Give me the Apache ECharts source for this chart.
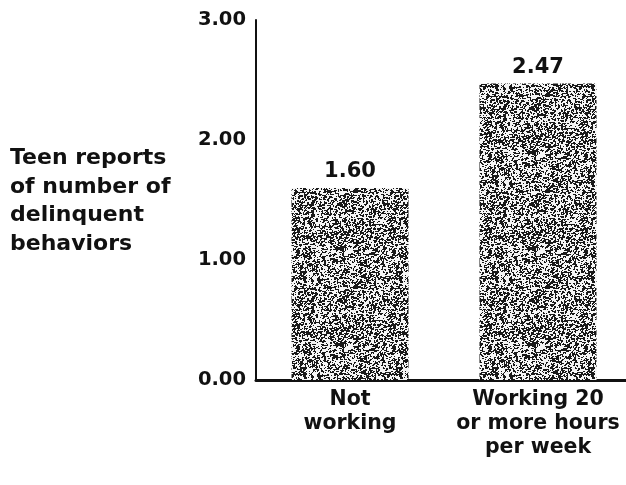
<!DOCTYPE html>
<html>
<head>
<meta charset="utf-8">
<script src="https://cdn.jsdelivr.net/npm/echarts@6/dist/echarts.min.js"></script>
<style>html,body{margin:0;padding:0;background:#fff}#c{width:626px;height:485px}</style>
</head>
<body>
<div id="c"></div>
<script>
var categories = ['Not\nworking', 'Working 20\nor more hours\nper week'];
var values = [1.60, 2.47];
var yTicks = [0, 1, 2, 3];
var yTitle = 'Teen reports\nof number of\ndelinquent\nbehaviors';

// deterministic stipple texture for bar fill
function makeTexture() {
  var s = 96, cv = document.createElement('canvas');
  cv.width = s; cv.height = s;
  var ctx = cv.getContext('2d');
  var img = ctx.createImageData(s, s);
  function h(x, y) {
    var n = (x * 374761393 + y * 668265263) | 0;
    n = (n ^ (n >>> 13)) * 1274126177 | 0;
    n = n ^ (n >>> 16);
    return ((n >>> 0) % 1000) / 1000;
  }
  for (var y = 0; y < s; y++) {
    for (var x = 0; x < s; x++) {
      var v = (h(x, y) + h((x + 1) % s, y) * 0.6 + h(x, (y + 1) % s) * 0.4) / 2;
      var c = v > 0.52 ? 25 : 245;
      var i = (y * s + x) * 4;
      img.data[i] = img.data[i + 1] = img.data[i + 2] = c;
      img.data[i + 3] = 255;
    }
  }
  ctx.putImageData(img, 0, 0);
  return cv;
}

var font = 'DejaVu Sans';
var chart = echarts.init(document.getElementById('c'), null, {renderer: 'canvas'});
chart.setOption({
  animation: false,
  backgroundColor: '#fff',
  grid: {left: 256, right: -6, top: 20, bottom: 105, containLabel: false, outerBoundsMode: 'none'},
  xAxis: {
    type: 'category',
    data: categories,
    axisLine: {lineStyle: {color: '#111', width: 3}},
    axisTick: {show: false},
    axisLabel: {
      color: '#111', fontFamily: font, fontWeight: 'bold', fontSize: 20.5,
      lineHeight: 24, margin: 8, interval: 0
    }
  },
  yAxis: {
    type: 'value',
    min: yTicks[0], max: yTicks[yTicks.length - 1], interval: 1,
    axisLine: {show: true, lineStyle: {color: '#111', width: 2}},
    axisTick: {show: false},
    splitLine: {show: false},
    axisLabel: {
      color: '#111', fontFamily: font, fontWeight: 'bold', fontSize: 19.5, margin: 10,
      formatter: function (v) { return v.toFixed(2); }
    }
  },
  graphic: [{
    type: 'text', left: 10, top: 144,
    style: {text: yTitle, fill: '#111', font: 'bold 22px "DejaVu Sans"', lineHeight: 28.7}
  }],
  series: [{
    type: 'bar',
    data: values,
    barWidth: 117,
    itemStyle: {color: {image: makeTexture(), repeat: 'repeat'}},
    label: {
      show: true, position: 'top', distance: 6,
      color: '#111', fontFamily: font, fontWeight: 'bold', fontSize: 21,
      formatter: function (p) { return p.value.toFixed(2); }
    }
  }]
});
</script>
</body>
</html>
